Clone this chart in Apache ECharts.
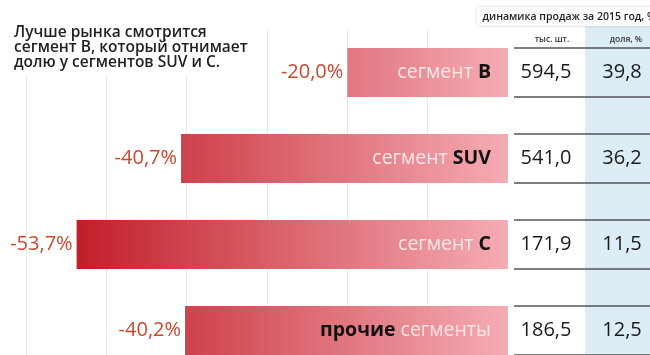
<!DOCTYPE html>
<html>
<head>
<meta charset="utf-8">
<style>
  html, body { margin: 0; padding: 0; background: #fff; }
  #chart { width: 650px; height: 355px; }
</style>
<script src="https://cdn.jsdelivr.net/npm/echarts@6/dist/echarts.min.js"></script>
</head>
<body>
<div id="chart"></div>
<script>
// Segments, sales change for 2015 (%), units (thousands) and market share (%)
const categories = ['B', 'SUV', 'C', 'прочие'];
const namePre = ['сегмент ', 'сегмент ', 'сегмент ', ''];
const nameBold = ['B', 'SUV', 'C', 'прочие'];
const namePost = ['', '', '', ' сегменты'];
const change = [-20.0, -40.7, -53.7, -40.2];
const units = [594.5, 541.0, 171.9, 186.5];
const share = [39.8, 36.2, 11.5, 12.5];

const headerTitle = 'динамика продаж за 2015 год, %';
const colUnits = 'тыс. шт.';
const colShare = 'доля, %';
const note = 'Лучше рынка смотрится\nсегмент B, который отнимает\nдолю у сегментов SUV и C.';

const FONT = '"Open Sans", "Noto Sans", sans-serif';
const fmt = v => v.toFixed(1).replace('.', ',');

// Bar fill: dark red at the deepest drop fading to pink at zero
const DARK = [193, 31, 41];
const LIGHT = [245, 172, 180];
const deepest = Math.min(...change);
function shade(v) {
  const t = 1 - v / deepest;
  const c = DARK.map((d, k) => Math.round(d + (LIGHT[k] - d) * t));
  return 'rgb(' + c.join(',') + ')';
}
function barFill(v) {
  return new echarts.graphic.LinearGradient(0, 0, 1, 0, [
    { offset: 0, color: shade(v) },
    { offset: 1, color: shade(0) }
  ]);
}

const chart = echarts.init(document.getElementById('chart'), null, { renderer: 'canvas' });

const BAR_W = 49;

const option = {
  animation: false,
  backgroundColor: '#fff',
  title: {
    text: note,
    left: 10,
    top: 23,
    padding: [2, 4, 4, 4],
    backgroundColor: '#fff',
    textStyle: {
      fontFamily: FONT, fontSize: 15.5, fontWeight: 600,
      color: '#231f20', lineHeight: 15
    }
  },
  grid: { left: 26, right: 142, top: 29.5, height: 344, outerBoundsMode: 'none' },
  xAxis: {
    type: 'value', min: -60, max: 0, interval: 10,
    axisLine: { show: false }, axisTick: { show: false }, axisLabel: { show: false },
    splitLine: {
      show: true,
      lineStyle: { color: ['#e9e9e9', '#e9e9e9', '#e9e9e9', '#e9e9e9', '#e9e9e9', '#e9e9e9', 'rgba(0,0,0,0)'], width: 1 }
    }
  },
  yAxis: {
    type: 'category', data: categories, inverse: true,
    axisLine: { show: false }, axisTick: { show: false }, axisLabel: { show: false },
    splitLine: { show: false }
  },
  graphic: [
    {
      type: 'rect', z: 0, silent: true,
      shape: { x: 585, y: 25, width: 70, height: 340 },
      style: { fill: '#dcedf6' }
    },
    {
      type: 'rect', z: 0, silent: true,
      shape: { x: 477, y: 7, width: 180, height: 19 },
      style: { fill: '#fbfbfb', shadowBlur: 3, shadowColor: 'rgba(0,0,0,0.18)' }
    },
    {
      type: 'text', z: 1, silent: true,
      style: {
        text: headerTitle, x: 656, y: 17, align: 'right', verticalAlign: 'middle',
        font: '600 10.5px ' + FONT, fill: '#231f20'
      }
    },
    {
      type: 'text', z: 1, silent: true,
      style: {
        text: colUnits, x: 552, y: 40, align: 'center', verticalAlign: 'middle',
        font: '600 8.5px ' + FONT, fill: '#333'
      }
    },
    {
      type: 'text', z: 1, silent: true,
      style: {
        text: colShare, x: 626, y: 40, align: 'center', verticalAlign: 'middle',
        font: '600 8.5px ' + FONT, fill: '#333'
      }
    }
  ],
  series: [
    {
      // Bars with the change value on their left
      type: 'bar',
      barWidth: BAR_W,
      z: 3,
      data: change.map(v => ({ value: v, itemStyle: { color: barFill(v) } })),
      label: {
        show: true, position: 'left', distance: 4,
        formatter: p => fmt(p.value) + '%',
        fontFamily: FONT, fontSize: 20, color: '#c9482f'
      }
    },
    {
      // Segment names inside the bars
      type: 'bar',
      barWidth: BAR_W,
      barGap: '-100%',
      z: 4,
      silent: true,
      itemStyle: { color: 'rgba(0,0,0,0)' },
      data: change,
      label: {
        show: true, position: 'insideRight', distance: 17,
        formatter: p => {
          const i = p.dataIndex;
          let s = '';
          if (namePre[i]) s += '{l|' + namePre[i] + '}';
          s += '{b|' + nameBold[i] + '}';
          if (namePost[i]) s += '{l|' + namePost[i] + '}';
          return s;
        },
        rich: {
          l: { fontFamily: FONT, fontSize: 19.5, color: '#fde6e8' },
          b: { fontFamily: FONT, fontSize: 19.5, fontWeight: 'bold', color: '#111' }
        }
      }
    },
    {
      // Table: units and share per segment, ruled above and below each row
      type: 'custom',
      z: 5,
      silent: true,
      data: units.map((u, i) => [0, i, u, share[i]]),
      encode: { x: 0, y: 1 },
      renderItem: (params, api) => {
        const c = api.coord([0, api.value(1)]);
        const y0 = c[1] - BAR_W / 2;
        const y1 = c[1] + BAR_W / 2;
        const x0 = c[0] + 6;
        const x1 = api.getWidth();
        const line = y => ({
          type: 'line',
          shape: { x1: x0, y1: y, x2: x1, y2: y },
          style: { stroke: '#555', lineWidth: 1.5 }
        });
        const txt = (t, x) => ({
          type: 'text',
          style: {
            text: t, x: x, y: c[1], align: 'center', verticalAlign: 'middle',
            font: '20px ' + FONT, fill: '#1a1a1a'
          }
        });
        return {
          type: 'group',
          children: [
            line(y0), line(y1),
            txt(fmt(api.value(2)), x0 + 32),
            txt(fmt(api.value(3)), x0 + 108)
          ]
        };
      }
    }
  ]
};

chart.setOption(option);
</script>
</body>
</html>
